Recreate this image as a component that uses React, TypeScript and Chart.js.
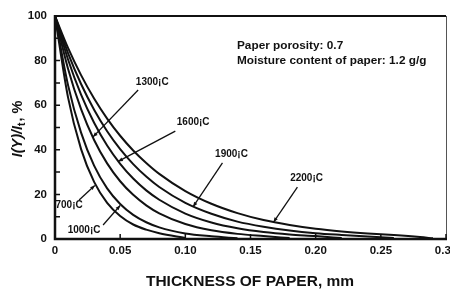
import React, { useEffect, useRef } from "react";
import { Chart, registerables } from "chart.js";

Chart.register(...registerables);

// ---- data ----
const thickness = [0, 0.01, 0.02, 0.03, 0.04, 0.05, 0.06, 0.07, 0.08, 0.10, 0.12, 0.14, 0.16, 0.18, 0.20, 0.22, 0.24, 0.26, 0.28, 0.29];
const seriesNames = ["700¡C", "1000¡C", "1300¡C", "1600¡C", "1900¡C", "2200¡C"];
const s700 = [100, 63.5, 40.3, 25.6, 16.2, 10.3, 6.5, 4.2, 2.6, 0.5, null, null, null, null, null, null, null, null, null, null];
const s1000 = [100, 69.0, 47.7, 32.9, 22.7, 15.7, 10.8, 7.5, 5.2, 2.5, 1.2, 0.3, null, null, null, null, null, null, null, null];
const s1300 = [100, 76.3, 58.2, 44.4, 33.9, 25.9, 19.8, 15.1, 11.5, 6.7, 3.9, 2.3, 1.3, 0.4, null, null, null, null, null, null];
const s1600 = [100, 80.5, 64.7, 52.1, 41.9, 33.7, 27.1, 21.8, 17.6, 11.4, 7.4, 4.8, 3.1, 2.0, 1.3, 0.4, null, null, null, null];
const s1900 = [100, 83.4, 69.5, 58.0, 48.3, 40.3, 33.6, 28.0, 23.3, 16.2, 11.3, 7.8, 5.5, 3.8, 2.6, 1.8, 1.1, 0.4, null, null];
const s2200 = [100, 85.7, 73.5, 63.0, 54.0, 46.3, 39.7, 34.1, 29.2, 21.5, 15.8, 11.6, 8.5, 6.3, 4.6, 3.4, 2.5, 1.8, 0.9, 0.3];
const allSeries = [s700, s1000, s1300, s1600, s1900, s2200];

const xTickValues = [0, 0.05, 0.1, 0.15, 0.2, 0.25, 0.3];
const xTickLabels = ["0", "0.05", "0.10", "0.15", "0.20", "0.25", "0.30"];
const yTickValues = [0, 20, 40, 60, 80, 100];
const yTickLabels = ["0", "20", "40", "60", "80", "100"];
const yMinorTicks = [10, 30, 50, 70, 90];
const xTitle = "THICKNESS OF PAPER, mm";
const noteLines = ["Paper porosity: 0.7", "Moisture content of paper: 1.2 g/g"];

// callouts: label index, text centre (data), line start (data), tip (data)
const callouts = [
  { name: 0, text: [0.0108, 15.2], from: [0.0185, 17.5], to: [0.0305, 24.0] },
  { name: 1, text: [0.0223, 4.0], from: [0.0369, 6.3], to: [0.05, 15.0] },
  { name: 2, text: [0.0746, 70.4], from: [0.0638, 66.8], to: [0.0292, 45.8] },
  { name: 3, text: [0.106, 52.5], from: [0.0923, 48.4], to: [0.0485, 34.8] },
  { name: 4, text: [0.1354, 38.1], from: [0.1285, 34.1], to: [0.106, 14.5] },
  { name: 5, text: [0.193, 27.4], from: [0.186, 23.3], to: [0.1677, 7.6] },
];

const FONT = '"Liberation Sans", Arial, sans-serif';

const decorPlugin = {
  id: "decor",
  afterDraw(chart: any) {
    const ctx = chart.ctx as CanvasRenderingContext2D;
    const xs = chart.scales.x;
    const ys = chart.scales.y;
    const { left, right, top, bottom } = chart.chartArea;
    ctx.save();
    // frame
    ctx.strokeStyle = "#111";
    ctx.lineWidth = 2;
    ctx.beginPath();
    ctx.moveTo(left, top);
    ctx.lineTo(right, top);
    ctx.stroke();
    ctx.lineWidth = 1;
    ctx.strokeStyle = "#555";
    ctx.beginPath();
    ctx.moveTo(right + 0.5, top);
    ctx.lineTo(right + 0.5, bottom);
    ctx.stroke();
    ctx.strokeStyle = "#111";
    ctx.lineWidth = 2.5;
    ctx.beginPath();
    ctx.moveTo(left, top - 1);
    ctx.lineTo(left, bottom);
    ctx.lineTo(right + 1, bottom);
    ctx.stroke();

    // ticks
    ctx.lineWidth = 1.5;
    ctx.beginPath();
    [...yTickValues, ...yMinorTicks].forEach((v) => {
      const py = ys.getPixelForValue(v);
      ctx.moveTo(left, py);
      ctx.lineTo(left + 5, py);
    });
    xTickValues.forEach((v) => {
      const px = xs.getPixelForValue(v);
      ctx.moveTo(px, bottom);
      ctx.lineTo(px, bottom - 5);
    });
    ctx.stroke();

    // tick labels
    ctx.fillStyle = "#111";
    ctx.font = `bold 11.5px ${FONT}`;
    ctx.textAlign = "right";
    ctx.textBaseline = "middle";
    yTickValues.forEach((v, i) => {
      ctx.fillText(yTickLabels[i], left - 8, ys.getPixelForValue(v));
    });
    ctx.textAlign = "center";
    ctx.textBaseline = "top";
    xTickValues.forEach((v, i) => {
      ctx.fillText(xTickLabels[i], xs.getPixelForValue(v), bottom + 6);
    });

    // x title
    ctx.font = `bold 15.5px ${FONT}`;
    ctx.textBaseline = "middle";
    ctx.fillText(xTitle, 250, 282);

    // y title (rotated)
    ctx.save();
    ctx.translate(18, 129);
    ctx.rotate(-Math.PI / 2);
    ctx.textAlign = "left";
    ctx.textBaseline = "middle";
    const p1 = "I(Y)/I";
    const p2 = "t";
    const p3 = ", %";
    ctx.font = `italic bold 14.5px ${FONT}`;
    const w1 = ctx.measureText(p1).width;
    ctx.font = `bold 10px ${FONT}`;
    const w2 = ctx.measureText(p2).width;
    ctx.font = `bold 14.5px ${FONT}`;
    const w3 = ctx.measureText(p3).width;
    let cx = -(w1 + w2 + w3 + 1) / 2;
    ctx.font = `italic bold 14.5px ${FONT}`;
    ctx.fillText(p1, cx, 0);
    cx += w1;
    ctx.font = `bold 10px ${FONT}`;
    ctx.fillText(p2, cx, 4);
    cx += w2 + 1;
    ctx.font = `bold 14.5px ${FONT}`;
    ctx.fillText(p3, cx, 0);
    ctx.restore();

    // note
    ctx.font = `bold 11.8px ${FONT}`;
    ctx.textAlign = "left";
    ctx.textBaseline = "middle";
    ctx.fillText(noteLines[0], 237, 46);
    ctx.fillText(noteLines[1], 237, 61);

    // callouts
    ctx.font = `bold 10px ${FONT}`;
    ctx.textAlign = "center";
    ctx.lineWidth = 1.3;
    callouts.forEach((c) => {
      const tx = xs.getPixelForValue(c.text[0]);
      const ty = ys.getPixelForValue(c.text[1]);
      const fx = xs.getPixelForValue(c.from[0]);
      const fy = ys.getPixelForValue(c.from[1]);
      const ex = xs.getPixelForValue(c.to[0]);
      const ey = ys.getPixelForValue(c.to[1]);
      ctx.fillText(seriesNames[c.name], tx, ty);
      ctx.beginPath();
      ctx.moveTo(fx, fy);
      ctx.lineTo(ex, ey);
      ctx.stroke();
      const ang = Math.atan2(ey - fy, ex - fx);
      const L = 5;
      ctx.beginPath();
      ctx.moveTo(ex, ey);
      ctx.lineTo(ex - L * Math.cos(ang - 0.4), ey - L * Math.sin(ang - 0.4));
      ctx.lineTo(ex - L * Math.cos(ang + 0.4), ey - L * Math.sin(ang + 0.4));
      ctx.closePath();
      ctx.fill();
    });
    ctx.restore();
  },
};

export default function App() {
  const ref = useRef<HTMLCanvasElement | null>(null);
  useEffect(() => {
    if (!ref.current) return;
    const datasets = allSeries.map((s, i) => ({
      label: seriesNames[i],
      data: thickness
        .map((x, j) => ({ x, y: s[j] }))
        .filter((p) => p.y !== null),
      borderColor: "#111",
      borderWidth: 2,
      pointRadius: 0,
      fill: false,
      cubicInterpolationMode: "monotone" as const,
    }));
    const chart = new Chart(ref.current, {
      type: "line",
      data: { datasets },
      options: {
        animation: false,
        responsive: false,
        maintainAspectRatio: false,
        layout: { padding: { left: 55, top: 16, right: 4, bottom: 52 } },
        scales: {
          x: { type: "linear", min: 0, max: 0.3, display: false },
          y: { type: "linear", min: 0, max: 100, display: false },
        },
        plugins: { legend: { display: false }, tooltip: { enabled: false } },
      },
      plugins: [decorPlugin],
    });
    return () => chart.destroy();
  }, []);
  return (
    <div style={{ position: "absolute", left: 0, top: 0, width: 450, height: 291, background: "#fff" }}>
      <canvas ref={ref} width={450} height={291} />
    </div>
  );
}
